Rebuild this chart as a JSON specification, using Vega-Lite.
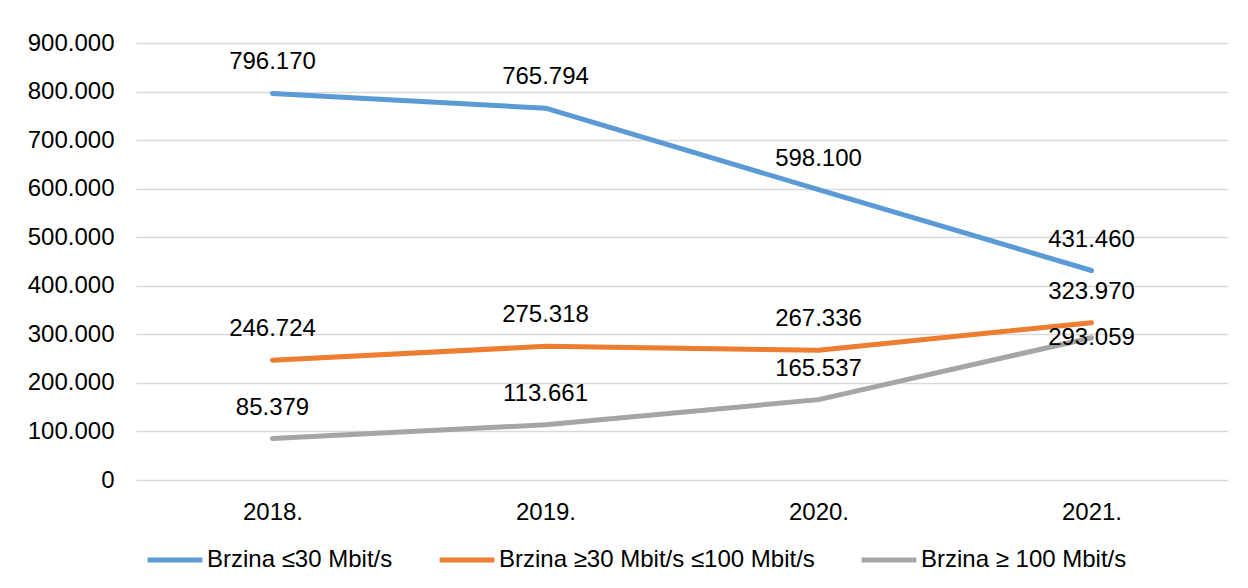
{
  "$schema": "https://vega.github.io/schema/vega-lite/v6.json",
  "width": 1092,
  "height": 437,
  "autosize": {"type": "none"},
  "padding": {"left": 136, "top": 43, "right": 20, "bottom": 108},
  "background": "white",
  "config": {
    "locale": {"number": {"decimal": ",", "thousands": ".", "grouping": [3], "currency": ["", " €"]}},
    "font": "Liberation Sans",
    "view": {"stroke": null}
  },
  "data": {
    "values": [
      {"year": "2018.", "series": "Brzina ≤30 Mbit/s", "value": 796170},
      {"year": "2019.", "series": "Brzina ≤30 Mbit/s", "value": 765794},
      {"year": "2020.", "series": "Brzina ≤30 Mbit/s", "value": 598100},
      {"year": "2021.", "series": "Brzina ≤30 Mbit/s", "value": 431460},
      {"year": "2018.", "series": "Brzina ≥30 Mbit/s ≤100 Mbit/s", "value": 246724},
      {"year": "2019.", "series": "Brzina ≥30 Mbit/s ≤100 Mbit/s", "value": 275318},
      {"year": "2020.", "series": "Brzina ≥30 Mbit/s ≤100 Mbit/s", "value": 267336},
      {"year": "2021.", "series": "Brzina ≥30 Mbit/s ≤100 Mbit/s", "value": 323970},
      {"year": "2018.", "series": "Brzina ≥ 100 Mbit/s", "value": 85379},
      {"year": "2019.", "series": "Brzina ≥ 100 Mbit/s", "value": 113661},
      {"year": "2020.", "series": "Brzina ≥ 100 Mbit/s", "value": 165537},
      {"year": "2021.", "series": "Brzina ≥ 100 Mbit/s", "value": 293059}
    ]
  },
  "encoding": {
    "x": {
      "field": "year", "type": "ordinal",
      "scale": {"type": "point", "padding": 0.5},
      "axis": {"title": null, "labelAngle": 0, "domain": false, "ticks": false, "labelPadding": 20, "labelFontSize": 24, "labelColor": "#000000", "labelFont": "Liberation Sans"}
    },
    "y": {
      "field": "value", "type": "quantitative",
      "scale": {"domain": [0, 900000], "nice": false},
      "axis": {"title": null, "values": [0,100000,200000,300000,400000,500000,600000,700000,800000,900000], "format": ",d", "domain": false, "ticks": false, "labelPadding": 22, "labelFontSize": 24, "labelColor": "#000000", "labelFont": "Liberation Sans", "gridColor": "#D9D9D9", "gridWidth": 1.5}
    }
  },
  "layer": [
    {
      "mark": {"type": "line", "strokeWidth": 5, "strokeCap": "round", "strokeJoin": "round"},
      "encoding": {
        "color": {
          "field": "series", "type": "nominal",
          "scale": {"domain": ["Brzina ≤30 Mbit/s", "Brzina ≥30 Mbit/s ≤100 Mbit/s", "Brzina ≥ 100 Mbit/s"], "range": ["#5B9BD5", "#ED7D31", "#A5A5A5"]},
          "legend": {
            "title": null, "orient": "none", "direction": "horizontal", "legendX": 9, "legendY": 487,
            "symbolType": "stroke", "symbolSize": 3000, "symbolStrokeWidth": 5,
            "labelFontSize": 24, "labelFont": "Liberation Sans", "labelColor": "#000000", "labelOffset": 2, "labelLimit": 0,
            "columnPadding": 36, "padding": 0
          }
        }
      }
    },
    {
      "transform": [{"filter": "!(datum.year == '2021.' && datum.value == 293059)"}],
      "mark": {"type": "text", "dy": -31, "fontSize": 24, "font": "Liberation Sans", "color": "#000000"},
      "encoding": {"text": {"field": "value", "type": "quantitative", "format": ",d"}}
    },
    {
      "transform": [{"filter": "datum.year == '2021.' && datum.value == 293059"}],
      "mark": {"type": "text", "dy": 0, "fontSize": 24, "font": "Liberation Sans", "color": "#000000"},
      "encoding": {"text": {"field": "value", "type": "quantitative", "format": ",d"}}
    }
  ]
}
